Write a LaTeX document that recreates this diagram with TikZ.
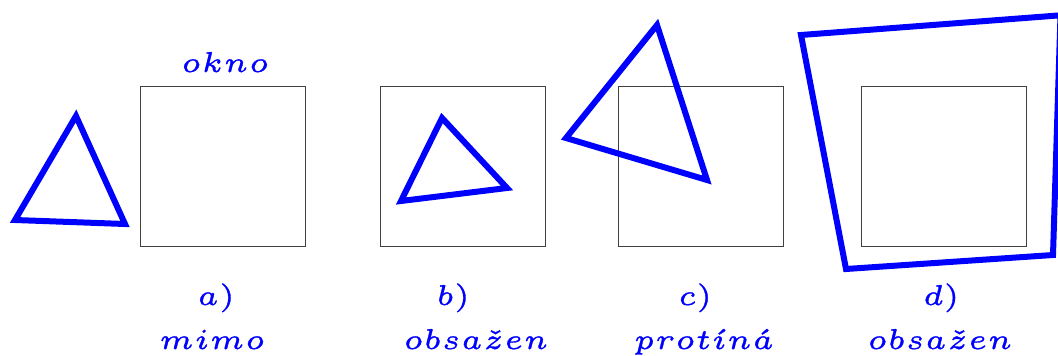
\documentclass[tikz,border=0pt]{standalone}
\usepackage{graphicx}
\newcommand\lbltxt[1]{\scalebox{5.75}{\special{pdf:literal direct 2 Tr 0.055 w}$\scriptscriptstyle #1$\special{pdf:literal direct 0 Tr 1 w}}}
\tikzset{
  okbox/.style={draw=black!75, line width=0.9pt, minimum width=165pt, minimum height=160pt, inner sep=0pt},
  shp/.style={draw=blue, line width=6pt, line join=miter},
  lbl/.style={text=blue, anchor=base, inner sep=0pt}
}
\begin{document}
\begin{tikzpicture}[x=1pt, y=-1pt]
\useasboundingbox (0,0) rectangle (1058,356);
\clip (0,0) rectangle (1058,356);
% windows
\node[okbox] (wa) at (222.5,166) {};
\node[okbox] (wb) at (462.5,166) {};
\node[okbox] (wc) at (701,166) {};
\node[okbox] (wd) at (944,166) {};
% shapes
\draw[shp] (76,116) -- (15,220) -- (125,224) -- cycle;
\draw[shp] (442,118) -- (401,201) -- (507,188) -- cycle;
\draw[shp] (657,25) -- (566,138) -- (707,180) -- cycle;
\draw[shp] (801,35) -- (1060.5,15.3) -- (1053,255) -- (846,269) -- cycle;
% labels
\node[lbl] (tokno) at (225,72) {\lbltxt{okno}};
\node[lbl] (la) at (216,305) {\lbltxt{a)}};
\node[lbl] (ta) at (212,349) {\lbltxt{mimo}};
\node[lbl] (lb) at (453,305) {\lbltxt{b)}};
\node[lbl] (tb) at (476,349) {\lbltxt{obsa\check{z}en}};
\node[lbl] (lc) at (695,305) {\lbltxt{c)}};
\node[lbl] (tc) at (704,349) {\lbltxt{prot\acute{\imath}n\acute{a}}};
\node[lbl] (ld) at (941,305) {\lbltxt{d)}};
\node[lbl] (td) at (940,349) {\lbltxt{obsa\check{z}en}};
\end{tikzpicture}
\end{document}
